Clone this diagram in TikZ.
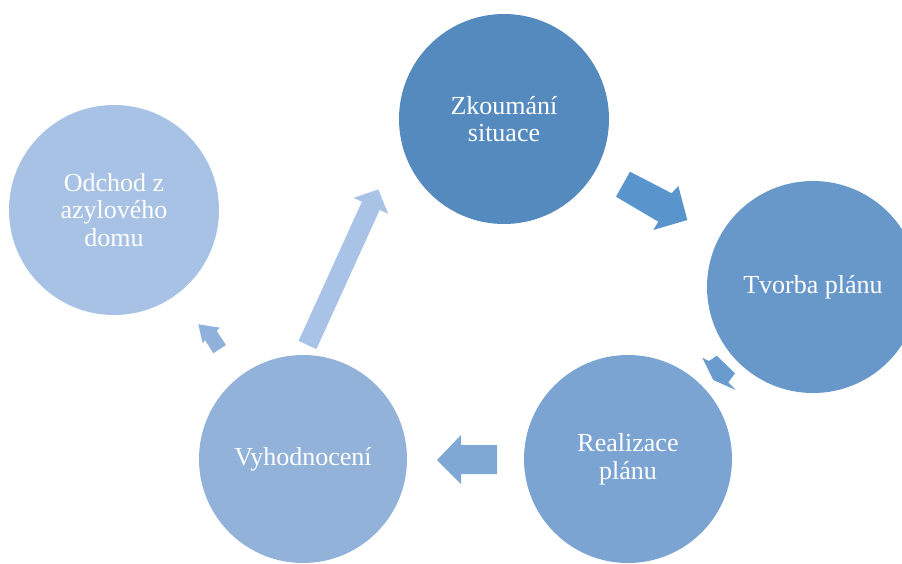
\documentclass[tikz,border=0pt]{standalone}
\usepackage{fontspec}
\setmainfont{Liberation Serif}
\definecolor{cZk}{HTML}{558ABF}
\definecolor{cTv}{HTML}{6898C9}
\definecolor{cRe}{HTML}{7BA4D2}
\definecolor{cVy}{HTML}{92B2DA}
\definecolor{cOd}{HTML}{A7C2E4}
\definecolor{aOne}{HTML}{5A94CC}
\definecolor{aTwo}{HTML}{6A9BCE}
\definecolor{aThree}{HTML}{7FA8D5}
\definecolor{aFour}{HTML}{90B1DB}
\definecolor{aFive}{HTML}{A8C3E6}
\tikzset{
  stage/.style={circle, minimum size=#1, inner sep=0pt, text=white, align=center,
    font=\fontsize{26}{27.5}\selectfont},
  barrow/.style={fill=#1, draw=none}
}
\begin{document}
\begin{tikzpicture}[x=1pt,y=-1pt]
\useasboundingbox (0,0) rectangle (902,563);
\clip (0,0) rectangle (902,563);
\node[stage=210pt, fill=cZk] (zk) at (504,119) {Zkoumání\\situace};
\node[stage=212pt, fill=cTv] (tv) at (813,287) {Tvorba plánu};
\node[stage=208pt, fill=cRe] (re) at (628,459) {Realizace\\plánu};
\node[stage=208pt, fill=cVy] (vy) at (303,459) {Vyhodnocení};
\node[stage=210pt, fill=cOd] (od) at (114,210) {Odchod z\\azylového\\domu};
% block arrows
\fill[barrow=aOne] (630,171.7) -- (671.7,193.3) -- (678.3,186) -- (687.3,220) -- (653.3,230) -- (658.3,221.7) -- (616,196.7) -- cycle;
\fill[barrow=aTwo] (702.3,357.7) -- (709,361) -- (716.7,355.7) -- (735,373.3) -- (728.3,382.3) -- (735.7,390) -- (713.3,380) -- cycle;
\fill[barrow=aThree] (497,445) -- (461,445) -- (461,435) -- (437,460) -- (461,484) -- (461,474) -- (497,474) -- cycle;
\fill[barrow=aFour] (198.3,324.3) -- (220,327.7) -- (216.7,331) -- (226,345) -- (213.3,353.3) -- (205,340) -- (202.7,343.3) -- cycle;
\fill[barrow=aFive] (298.6,340.9) -- (361.9,201.7) -- (353.5,197.9) -- (378.3,189.4) -- (388.1,213.7) -- (379.7,209.9) -- (316.4,349.1) -- cycle;
\end{tikzpicture}
\end{document}
